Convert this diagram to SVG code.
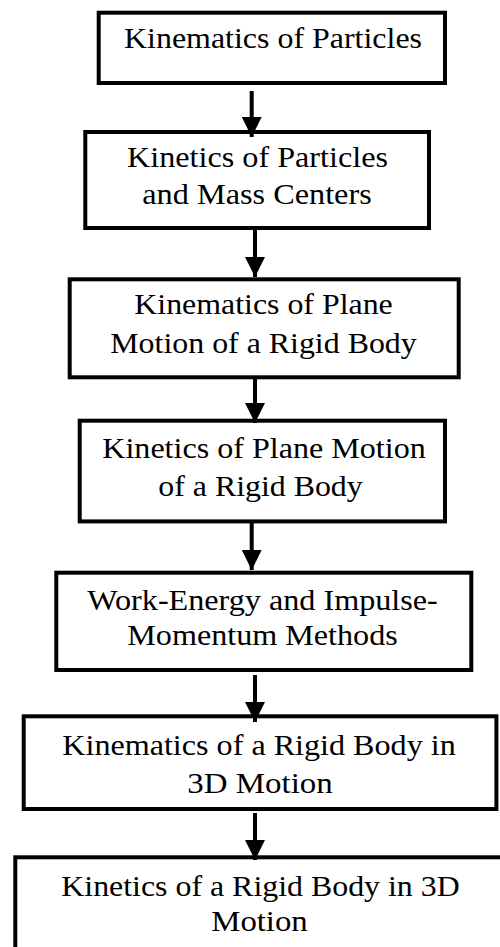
<svg xmlns="http://www.w3.org/2000/svg" width="500" height="947" viewBox="0 0 500 947">
<style>
.box{fill:#fff;stroke:#000;stroke-width:4}
.t{font-family:'Liberation Serif','Times New Roman',serif;font-size:28.7px;fill:#000;text-anchor:middle}
.c{stroke:#000;stroke-width:4;fill:none}
</style>
<defs>
<marker id="ah" viewBox="0 0 20 20" refX="20" refY="10" markerWidth="20" markerHeight="20" markerUnits="userSpaceOnUse" orient="auto">
<path d="M0,0 L20,10 L0,20 z" fill="#000"/>
</marker>
</defs>
<rect width="500" height="947" fill="#fff"/>
<g id="n1">
<rect class="box" x="98.7" y="12.7" width="346.3" height="70.3"/>
<text class="t" x="273" y="47.7" textLength="298" lengthAdjust="spacingAndGlyphs">Kinematics of Particles</text>
</g>
<g id="n2">
<rect class="box" x="85.3" y="132" width="343.7" height="96"/>
<text class="t" x="257.5" y="166.7" textLength="261" lengthAdjust="spacingAndGlyphs">Kinetics of Particles</text>
<text class="t" x="257" y="204" textLength="229.5" lengthAdjust="spacingAndGlyphs">and Mass Centers</text>
</g>
<g id="n3">
<rect class="box" x="69.7" y="279.3" width="389" height="98"/>
<text class="t" x="263.5" y="314" textLength="258.5" lengthAdjust="spacingAndGlyphs">Kinematics of Plane</text>
<text class="t" x="263.5" y="352.7" textLength="306.5" lengthAdjust="spacingAndGlyphs">Motion of a Rigid Body</text>
</g>
<g id="n4">
<rect class="box" x="79.7" y="420.7" width="365.3" height="100.7"/>
<text class="t" x="264" y="458.3" textLength="323.5" lengthAdjust="spacingAndGlyphs">Kinetics of Plane Motion</text>
<text class="t" x="260.5" y="495.7" textLength="204.5" lengthAdjust="spacingAndGlyphs">of a Rigid Body</text>
</g>
<g id="n5">
<rect class="box" x="56.3" y="572.7" width="415" height="97.3"/>
<text class="t" x="262.5" y="610" textLength="350.5" lengthAdjust="spacingAndGlyphs">Work-Energy and Impulse-</text>
<text class="t" x="262.5" y="645.3" textLength="270.5" lengthAdjust="spacingAndGlyphs">Momentum Methods</text>
</g>
<g id="n6">
<rect class="box" x="23.7" y="716.3" width="472.7" height="92.7"/>
<text class="t" x="259" y="754.7" textLength="393.5" lengthAdjust="spacingAndGlyphs">Kinematics of a Rigid Body in</text>
<text class="t" x="260" y="792.7" textLength="145.5" lengthAdjust="spacingAndGlyphs">3D Motion</text>
</g>
<g id="n7">
<rect class="box" x="15.3" y="857.3" width="500" height="100"/>
<text class="t" x="260.5" y="896.3" textLength="398.5" lengthAdjust="spacingAndGlyphs">Kinetics of a Rigid Body in 3D</text>
<text class="t" x="259.5" y="931" textLength="96.5" lengthAdjust="spacingAndGlyphs">Motion</text>
</g>
<g id="connectors">
<line class="c" x1="251.7" y1="91" x2="251.7" y2="137" marker-end="url(#ah)"/>
<line class="c" x1="255" y1="230" x2="255" y2="277" marker-end="url(#ah)"/>
<line class="c" x1="255" y1="377" x2="255" y2="423" marker-end="url(#ah)"/>
<line class="c" x1="251.7" y1="523" x2="251.7" y2="570" marker-end="url(#ah)"/>
<line class="c" x1="255" y1="675" x2="255" y2="722" marker-end="url(#ah)"/>
<line class="c" x1="255" y1="813" x2="255" y2="860" marker-end="url(#ah)"/>
</g>
</svg>
